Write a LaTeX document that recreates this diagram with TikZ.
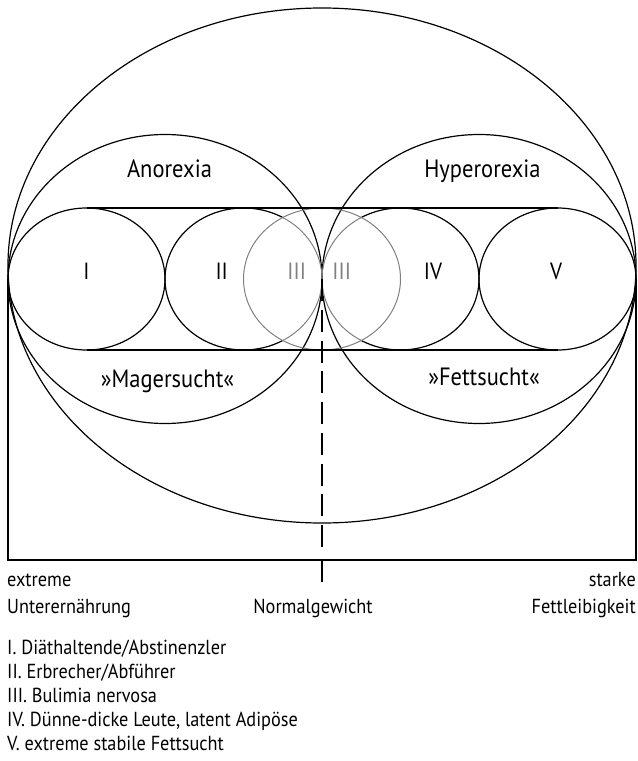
\documentclass[tikz,border=0pt]{standalone}
\usepackage{fontspec}
\setmainfont{PT Sans}[FakeStretch=0.9]
\begin{document}
\begin{tikzpicture}[x=1bp,y=-1bp,
  ln/.style={line width=1.2bp, black},
  gr/.style={line width=1bp, black!50},
  bigtxt/.style={font=\fontsize{25bp}{28bp}\selectfont, inner sep=0pt, anchor=base},
  numtxt/.style={font=\fontsize{23.5bp}{26bp}\selectfont, inner sep=0pt, anchor=base},
  smallw/.style={font=\fontsize{20.3bp}{24bp}\selectfont, inner sep=0pt, anchor=base west},
  smalle/.style={font=\fontsize{20.3bp}{24bp}\selectfont, inner sep=0pt, anchor=base east},
  smallc/.style={font=\fontsize{20.3bp}{24bp}\selectfont, inner sep=0pt, anchor=base},
  sc/.style={x radius=78.5bp, y radius=71bp}]
\useasboundingbox (0,0) rectangle (638,761);
% outer ellipse and two large circles
\draw[ln] (322,265.5) ellipse [x radius=314bp, y radius=257.5bp];
\draw[ln] (165,279) ellipse [x radius=157bp, y radius=144.5bp];
\draw[ln] (479,279) ellipse [x radius=157bp, y radius=144.5bp];
% small circles
\draw[ln] (86.5,279) ellipse [sc];
\draw[ln] (557.5,279) ellipse [sc];
\draw[ln] (243.5,279) ++(60:78.5bp and 71bp) arc[start angle=60, end angle=300, sc];
\draw[gr] (243.5,279) ++(-60:78.5bp and 71bp) arc[start angle=-60, end angle=60, sc];
\draw[ln] (400.5,279) ++(120:78.5bp and 71bp) arc[start angle=120, end angle=-120, sc];
\draw[gr] (400.5,279) ++(120:78.5bp and 71bp) arc[start angle=120, end angle=240, sc];
\draw[gr] (322,279) ellipse [sc];
% band lines
\draw[ln] (86.5,208) -- (557.5,208);
\draw[ln] (86.5,350) -- (557.5,350);
% bracket
\coordinate (lt) at (8,279);
\coordinate (lb) at (8,560);
\coordinate (rb) at (636,560);
\coordinate (rt) at (636,279);
\draw[ln] (lt) -- (lb) -- (rb) -- (rt);
% normal weight line
\coordinate (tp) at (322,279);
\coordinate (dend) at (322,547);
\coordinate (b0) at (322,560);
\coordinate (b1) at (322,582);
\draw[line width=1.4bp, dash pattern=on 22bp off 8.75bp] (tp) -- (dend);
\draw[ln] (b0) -- (b1);
% labels
\node[bigtxt] (ano) at (169.5,177) {Anorexia};
\node[bigtxt] (hyp) at (482.5,177) {Hyperorexia};
\node[numtxt] (n1) at (86.5,279) {I};
\node[numtxt] (n2) at (221.7,279) {II};
\node[numtxt, text=black!50] (n3a) at (296.7,279) {III};
\node[numtxt, text=black!50] (n3b) at (341.7,279) {III};
\node[numtxt] (n4) at (433,279) {IV};
\node[numtxt] (n5) at (556,279) {V};
\node[bigtxt] (mag) at (167.5,387) {»Magersucht«};
\node[bigtxt] (fett) at (484,385) {»Fettsucht«};
\node[smallw] (ex) at (7,586) {extreme};
\node[smallw] (unt) at (7,613) {Unterernährung};
\node[smallc] (norm) at (313,613) {Normalgewicht};
\node[smalle] (sta) at (636,586) {starke};
\node[smalle] (fl) at (636,613) {Fettleibigkeit};
\node[smallw] (l1) at (7,654) {I. Diäthaltende/Abstinenzler};
\node[smallw] (l2) at (7,678) {II. Erbrecher/Abführer};
\node[smallw] (l3) at (7,702) {III. Bulimia nervosa};
\node[smallw] (l4) at (7,726) {IV. Dünne-dicke Leute, latent Adipöse};
\node[smallw] (l5) at (7,750) {V. extreme stabile Fettsucht};
\end{tikzpicture}
\end{document}
